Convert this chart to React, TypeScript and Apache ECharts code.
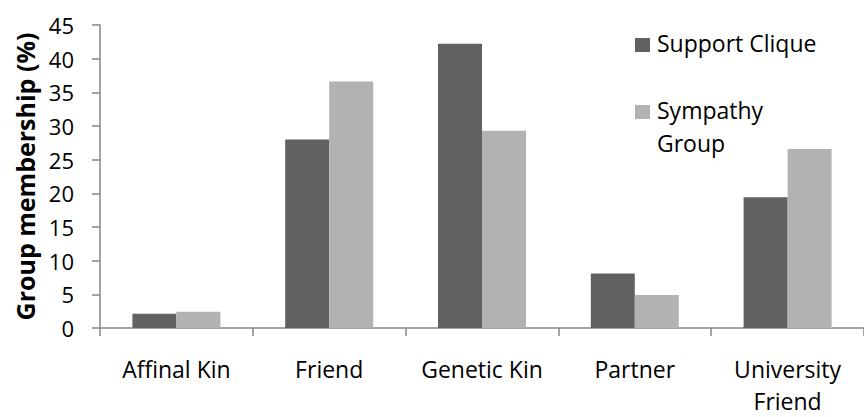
import React, { useEffect, useRef } from "react";
import * as echarts from "echarts";

// Categories and group membership percentages
const categories = ["Affinal Kin", "Friend", "Genetic Kin", "Partner", "University\nFriend"];
const supportClique = [2.1, 28.0, 42.2, 8.1, 19.4];
const sympathyGroup = [2.4, 36.6, 29.3, 4.9, 26.6];
const seriesNames = ["Support Clique", "Sympathy Group"];
const legendLabels = ["Support Clique", "Sympathy\nGroup"];
const yMin = 0;
const yMax = 45;
const yStep = 5;

const DARK = "#616161";
const LIGHT = "#b2b2b2";
const AXIS = "#868686";
const FONT = "'Open Sans', sans-serif";

export default function App() {
  const ref = useRef<HTMLDivElement>(null);

  useEffect(() => {
    document.body.style.margin = "0";
    if (!ref.current) return;
    const chart = echarts.init(ref.current, undefined, { renderer: "svg" });
    const colors = [DARK, LIGHT];

    chart.setOption({
      animation: false,
      backgroundColor: "#ffffff",
      textStyle: { fontFamily: FONT, color: "#000" },
      grid: { left: 100, top: 25, height: 306, width: 775 },
      xAxis: {
        type: "category",
        data: categories,
        axisLine: { lineStyle: { color: AXIS, width: 1.5 } },
        axisTick: { show: true, length: 8, lineStyle: { color: AXIS, width: 1.5 } },
        axisLabel: {
          color: "#000",
          fontFamily: FONT,
          fontSize: 23,
          lineHeight: 32,
          margin: 25,
          interval: 0,
        },
      },
      yAxis: {
        type: "value",
        min: yMin,
        max: yMax,
        interval: yStep,
        name: "Group membership (%)",
        nameLocation: "middle",
        nameGap: 60,
        nameTextStyle: {
          color: "#000",
          fontFamily: FONT,
          fontSize: 25,
          fontWeight: "bold",
        },
        axisLine: { show: true, lineStyle: { color: AXIS, width: 1.5 } },
        axisTick: { show: true, length: 8, lineStyle: { color: AXIS, width: 1.5 } },
        splitLine: { show: false },
        axisLabel: { color: "#000", fontFamily: FONT, fontSize: 22, margin: 26 },
      },
      series: [
        {
          name: seriesNames[0],
          type: "bar",
          data: supportClique,
          barWidth: 44,
          barGap: "0%",
          itemStyle: { color: DARK },
        },
        {
          name: seriesNames[1],
          type: "bar",
          data: sympathyGroup,
          barWidth: 44,
          barGap: "0%",
          itemStyle: { color: LIGHT },
        },
      ],
      graphic: legendLabels.flatMap((label, i) => {
        const cy = 45 + i * 67;
        return [
          {
            type: "rect",
            shape: { x: 635, y: cy - 7, width: 15, height: 14 },
            style: { fill: colors[i] },
          },
          {
            type: "text",
            x: 657,
            y: cy - 19,
            style: {
              text: label,
              fill: "#000",
              font: `23px ${FONT}`,
              lineHeight: 33,
              verticalAlign: "top",
            },
          },
        ];
      }),
    });

    return () => chart.dispose();
  }, []);

  return <div ref={ref} style={{ width: 864, height: 417 }} />;
}
